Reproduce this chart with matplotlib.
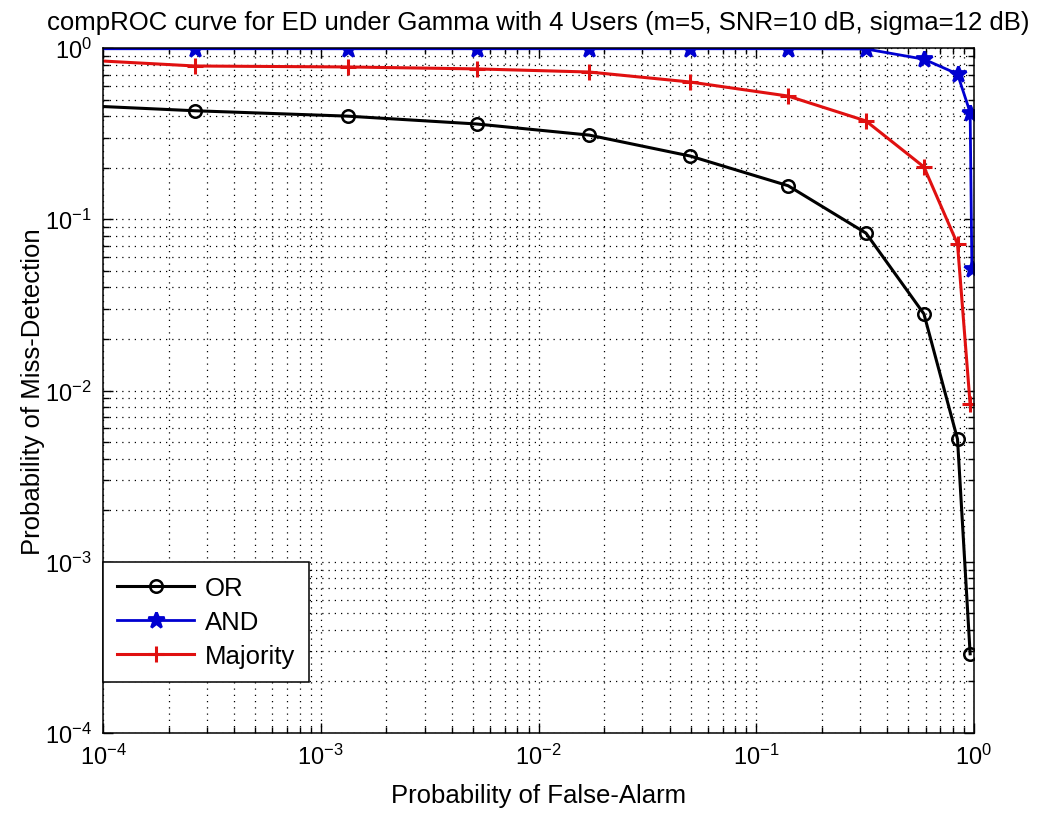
import numpy as np
import matplotlib
matplotlib.use('Agg')
import matplotlib.pyplot as plt
from matplotlib.ticker import LogLocator, NullFormatter

plt.rcParams['font.family'] = ['Liberation Sans', 'DejaVu Sans']
plt.rcParams['mathtext.fontset'] = 'custom'
plt.rcParams['mathtext.rm'] = 'Liberation Sans'
plt.rcParams['mathtext.it'] = 'Liberation Sans'
plt.rcParams['mathtext.bf'] = 'Liberation Sans'

# false-alarm probabilities (x) and miss-detection probabilities (y)
pf_or = [5e-5, 2.65e-4, 1.33e-3, 5.2e-3, 0.0171, 0.0497, 0.140, 0.319, 0.589, 0.840, 0.960]
pm_or = [0.474, 0.43, 0.40, 0.36, 0.31, 0.234, 0.157, 0.083, 0.028, 0.0052, 0.00029]

pf_and = [5e-5, 2.65e-4, 1.33e-3, 5.2e-3, 0.0171, 0.0497, 0.140, 0.319, 0.589, 0.840, 0.960, 0.978]
pm_and = [0.99, 0.99, 0.99, 0.99, 0.99, 0.99, 0.99, 0.987, 0.86, 0.705, 0.42, 0.051]

pf_maj = [5e-5, 2.65e-4, 1.33e-3, 5.2e-3, 0.0171, 0.0497, 0.140, 0.319, 0.589, 0.840, 0.960]
pm_maj = [0.88, 0.785, 0.775, 0.755, 0.724, 0.633, 0.524, 0.375, 0.202, 0.0717, 0.0083]

fig = plt.figure(figsize=(10.39, 8.2), dpi=100)
ax = fig.add_axes([103/1039, 1-734/820, (974-103)/1039, (734-49)/820])

ax.loglog(pf_or, pm_or, '-o', color='k', lw=2.2, ms=9, mew=1.8, mfc='none', label='OR')
ax.loglog(pf_and, pm_and, '-*', color='#0000d0', lw=2.0, ms=12, mew=2, label='AND')
ax.loglog(pf_maj, pm_maj, '-+', color='#e01010', lw=2.2, ms=12, mew=2.2, label='Majority')

ax.set_xlim(1e-4, 1)
ax.set_ylim(1e-4, 1)

for a in (ax.xaxis, ax.yaxis):
    a.set_major_locator(LogLocator(base=10, numticks=10))
    a.set_minor_locator(LogLocator(base=10, subs=np.arange(2, 10), numticks=10))
    a.set_minor_formatter(NullFormatter())

ax.grid(True, which='both', color='k', linestyle=(0, (1, 4)), linewidth=0.9)
ax.tick_params(which='both', direction='in', top=True, right=True, labelsize=17, width=1, pad=8)
ax.tick_params(which='major', length=7)
ax.tick_params(which='minor', length=4)
for s in ax.spines.values():
    s.set_linewidth(1.1)

ax.set_title('compROC curve for ED under Gamma with 4 Users (m=5, SNR=10 dB, sigma=12 dB)',
             fontsize=18.5, pad=14)
ax.set_xlabel('Probability of False-Alarm', fontsize=18.5, labelpad=10)
ax.set_ylabel('Probability of Miss-Detection', fontsize=18.5, labelpad=0)

leg = ax.legend(loc='lower left', bbox_to_anchor=(0, 51/685), borderaxespad=0,
                fontsize=18.5, handlelength=3.0, handletextpad=0.4, labelspacing=0.38,
                fancybox=False, framealpha=1, edgecolor='k', borderpad=0.55)
leg.get_frame().set_linewidth(1.1)

fig.savefig('out.png', dpi=100, facecolor='white')
